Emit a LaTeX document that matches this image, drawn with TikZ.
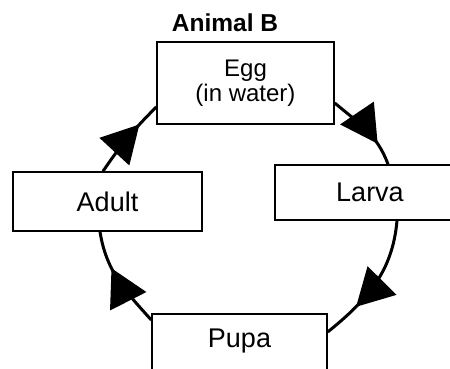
\documentclass[tikz,border=0pt]{standalone}
\usepackage{fontspec}
\setmainfont{Liberation Sans}
\usetikzlibrary{arrows.meta,decorations.markings}
\tikzset{
  stagebox/.style={draw=black, line width=1.4pt, fill=white, inner sep=0pt,
    font=\fontsize{27}{29}\selectfont},
  cycle/.style={line width=3pt, draw=black},
  tipat/.style={postaction={decorate, decoration={markings,
    mark=at position #1 with {\arrow{Triangle[length=37pt,width=40pt]}}}}}
}
\begin{document}
\begin{tikzpicture}[x=1pt,y=1pt]
\clip (0,0) rectangle (450,369);
\fill[white] (0,0) rectangle (450,369);
% title
\node[anchor=base, font=\bfseries\fontsize{24.5}{26}\selectfont] (title) at (225,337) {Animal B};
% stages
\node[stagebox, minimum width=177pt, minimum height=82pt, align=center,
      font=\fontsize{24}{24.5}\selectfont] (egg) at (245.5,286) {Egg\\(in water)};
\node[stagebox, minimum width=190pt, minimum height=55pt] (larva) at (370,176.5) {Larva};
\node[stagebox, minimum width=189pt, minimum height=59pt] (adult) at (107.5,167.5) {Adult};
\node[stagebox, minimum width=175pt, text height=34pt, text depth=52pt, anchor=base] (pupa) at (239.5,21) {Pupa};
% cycle connectors
\draw[cycle, tipat=0.72] ([yshift=-20pt]egg.east) to[out=-40, in=110] ([xshift=18pt]larva.north);
\draw[cycle, tipat=0.72] ([xshift=27pt]larva.south) to[out=-95, in=39] ([yshift=25pt]pupa.east);
\draw[cycle, tipat=0.63] ([yshift=37pt]pupa.west) to[out=132, in=-81] ([xshift=-7.5pt]adult.south);
\draw[cycle, tipat=0.71] ([xshift=-4.5pt]adult.north) to[out=56, in=225] ([yshift=-24pt]egg.west);
\end{tikzpicture}
\end{document}
